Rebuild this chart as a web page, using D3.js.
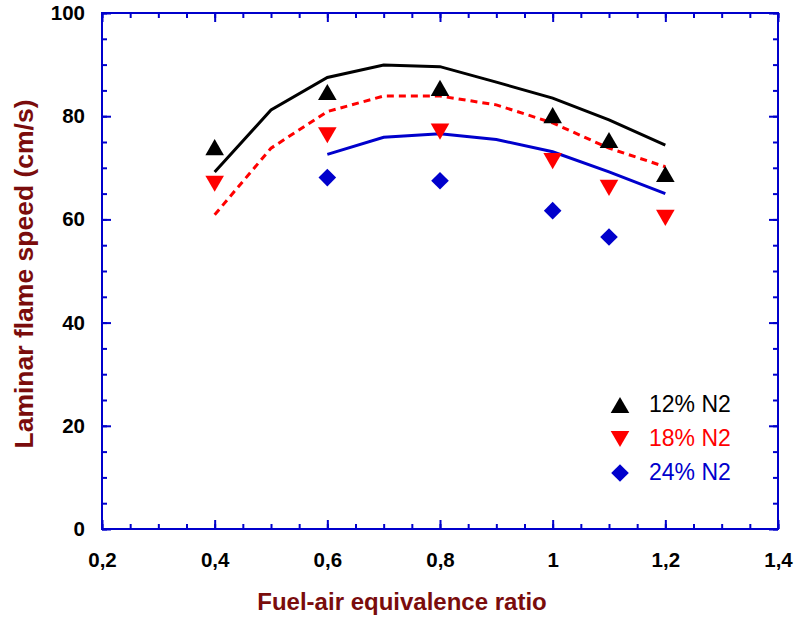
<!DOCTYPE html>
<html>
<head>
<meta charset="utf-8">
<script src="https://cdn.jsdelivr.net/npm/d3@7"></script>
<style>
  body { margin: 0; background: #fff; }
  svg { font-family: "Liberation Sans", Arial, sans-serif; }
</style>
</head>
<body>
<div id="chart"></div>
<script>
// data
const phiCurve = [0.4, 0.5, 0.6, 0.7, 0.8, 0.9, 1.0, 1.1, 1.2];
const curve12 = [69.2, 81.2, 87.5, 89.9, 89.6, 86.6, 83.5, 79.3, 74.4];
const curve18 = [60.9, 73.8, 80.9, 83.9, 83.9, 82.2, 78.7, 73.8, 70.2];
const phiCurve24 = [0.6, 0.7, 0.8, 0.9, 1.0, 1.1, 1.2];
const curve24 = [72.6, 75.9, 76.6, 75.5, 73.1, 69.2, 65.0];

const phiExp = [0.4, 0.6, 0.8, 1.0, 1.1, 1.2];
const exp12 = [74.0, 84.7, 85.5, 80.2, 75.4, 68.8];
const exp18 = [66.9, 76.3, 77.0, 71.3, 66.1, 60.3];
const phiExp24 = [0.6, 0.8, 1.0, 1.1];
const exp24 = [68.1, 67.5, 61.7, 56.6];

const xTicks = [0.2, 0.4, 0.6, 0.8, 1.0, 1.2, 1.4];
const yTicks = [0, 20, 40, 60, 80, 100];
const legendLabels = ['12% N2', '18% N2', '24% N2'];

const width = 798, height = 619;
const m = { left: 102, right: 20, top: 13, bottom: 90 };
const axisColor = '#0000cc';
const titleColor = '#7a0c0c';

const svg = d3.select('#chart').append('svg')
  .attr('width', width)
  .attr('height', height);

const x = d3.scaleLinear().domain([0.2, 1.4]).range([m.left, width - m.right]);
const y = d3.scaleLinear().domain([0, 100]).range([height - m.bottom, m.top]);

// ===============================
// EJES
// ===============================
const xMinor = d3.range(0.2, 1.4001, 0.05);
const yMinor = d3.range(0, 100.001, 5);

function tickGroup(axis, transform) {
  const g = svg.append('g').attr('transform', transform).call(axis);
  g.select('.domain').remove();
  g.selectAll('line').attr('stroke', axisColor).attr('stroke-width', 2);
  return g;
}

// minor ticks, all four sides, inward
tickGroup(d3.axisBottom(x).tickValues(xMinor).tickSize(-5).tickFormat(''), `translate(0,${y(0)})`);
tickGroup(d3.axisTop(x).tickValues(xMinor).tickSize(-5).tickFormat(''), `translate(0,${y(100)})`);
tickGroup(d3.axisLeft(y).tickValues(yMinor).tickSize(-5).tickFormat(''), `translate(${x(0.2)},0)`);
tickGroup(d3.axisRight(y).tickValues(yMinor).tickSize(-5).tickFormat(''), `translate(${x(1.4)},0)`);

// major ticks
const gx = tickGroup(d3.axisBottom(x).tickValues(xTicks).tickSize(-9).tickPadding(23)
  .tickFormat(d => d3.format('.1f')(d).replace('.', ',').replace(/,0$/, '')), `translate(0,${y(0)})`);
tickGroup(d3.axisTop(x).tickValues(xTicks).tickSize(-9).tickFormat(''), `translate(0,${y(100)})`);
const gy = tickGroup(d3.axisLeft(y).tickValues(yTicks).tickSize(-9).tickPadding(17), `translate(${x(0.2)},0)`);
tickGroup(d3.axisRight(y).tickValues(yTicks).tickSize(-9).tickFormat(''), `translate(${x(1.4)},0)`);

[gx, gy].forEach(g => g.selectAll('text')
  .attr('fill', '#000')
  .attr('font-size', 20.5)
  .attr('font-weight', 'bold')
  .attr('font-family', '"Liberation Sans", Arial, sans-serif'));

// frame
svg.append('rect')
  .attr('x', x(0.2)).attr('y', y(100))
  .attr('width', x(1.4) - x(0.2)).attr('height', y(0) - y(100))
  .attr('fill', 'none').attr('stroke', axisColor).attr('stroke-width', 2);

// axis titles
svg.append('text')
  .attr('x', 402).attr('y', 610)
  .attr('text-anchor', 'middle')
  .attr('font-size', 24).attr('font-weight', 'bold')
  .attr('fill', titleColor)
  .text('Fuel-air equivalence ratio');

svg.append('text')
  .attr('transform', `translate(33,274) rotate(-90)`)
  .attr('text-anchor', 'middle')
  .attr('font-size', 26.5).attr('font-weight', 'bold')
  .attr('fill', titleColor)
  .text('Laminar flame speed (cm/s)');

// ===============================
// CURVAS
// ===============================
const line = d3.line().x(d => x(d[0])).y(d => y(d[1]));

svg.append('path')
  .attr('d', line(d3.zip(phiCurve, curve12)))
  .attr('fill', 'none').attr('stroke', '#000').attr('stroke-width', 3);

svg.append('path')
  .attr('d', line(d3.zip(phiCurve, curve18)))
  .attr('fill', 'none').attr('stroke', '#ff0000').attr('stroke-width', 3)
  .attr('stroke-dasharray', '7,5');

svg.append('path')
  .attr('d', line(d3.zip(phiCurve24, curve24)))
  .attr('fill', 'none').attr('stroke', '#0000cc').attr('stroke-width', 3);

// ===============================
// PUNTOS
// ===============================
const triSize = 150;
// d3 centres the triangle on its centroid; shift so the box is centred
const triShift = Math.sqrt(triSize * 4 / Math.sqrt(3)) * Math.sqrt(3) / 2 / 6;
const triUp = d3.symbol().type(d3.symbolTriangle).size(triSize);
const triDown = d3.symbol().type(d3.symbolTriangle).size(triSize);
const diamond = d3.symbol().type(d3.symbolSquare).size(155);

function drawPoints(xs, ys, sym, color, rot, dy) {
  svg.append('g').selectAll('path')
    .data(d3.zip(xs, ys))
    .enter().append('path')
    .attr('d', sym)
    .attr('fill', color)
    .attr('transform', d => `translate(${x(d[0])},${y(d[1]) + dy}) rotate(${rot})`);
}

drawPoints(phiExp, exp12, triUp, '#000', 0, triShift);
drawPoints(phiExp, exp18, triDown, '#ff0000', 180, -triShift);
drawPoints(phiExp24, exp24, diamond, '#0000cc', 45, 0);

// ===============================
// LEYENDA
// ===============================
const legendSyms = [[triUp, '#000', 0, triShift], [triDown, '#ff0000', 180, -triShift], [diamond, '#0000cc', 45, 0]];
const legend = svg.append('g');
legendLabels.forEach((label, i) => {
  const ly = 405 + i * 34;
  legend.append('path')
    .attr('d', legendSyms[i][0])
    .attr('fill', legendSyms[i][1])
    .attr('transform', `translate(620,${ly + legendSyms[i][3]}) rotate(${legendSyms[i][2]})`);
  legend.append('text')
    .attr('x', 649).attr('y', ly + 7)
    .attr('font-size', 23)
    .attr('fill', legendSyms[i][1])
    .text(label);
});
</script>
</body>
</html>
